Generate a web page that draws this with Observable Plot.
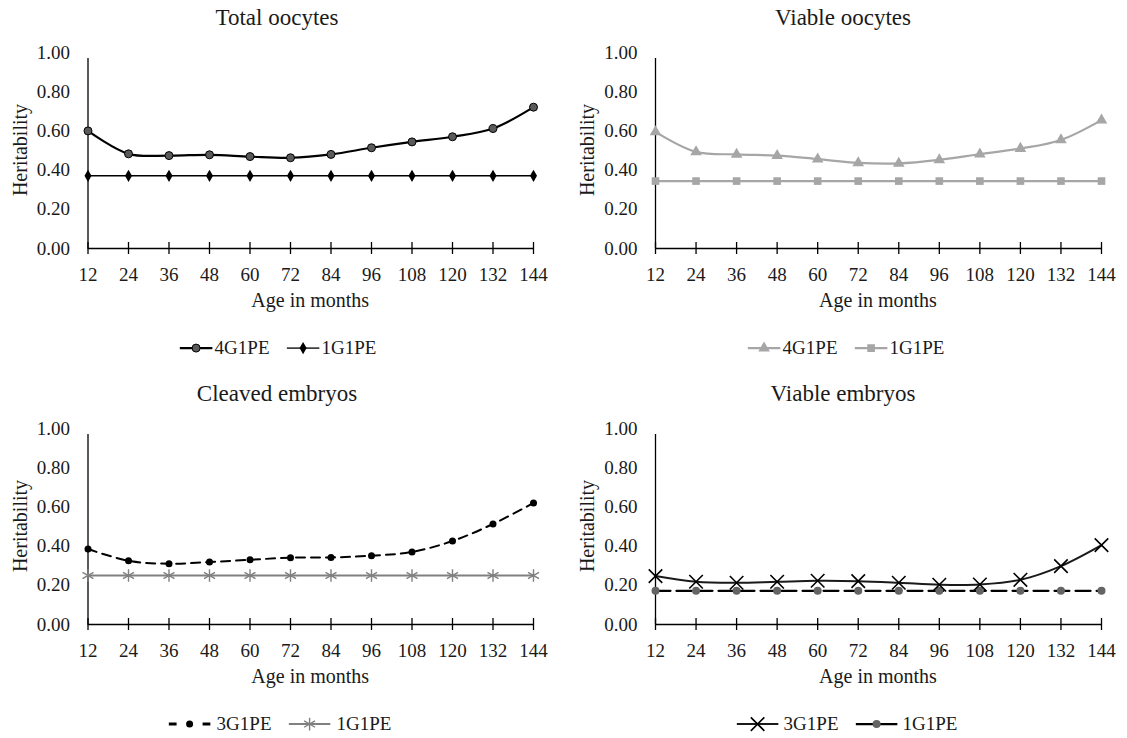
<!DOCTYPE html>
<html>
<head>
<meta charset="utf-8">
<script src="https://cdn.jsdelivr.net/npm/d3@7"></script>
<script src="https://cdn.jsdelivr.net/npm/@observablehq/plot@0.6"></script>
<style>
  body { margin: 0; background: #fff; }
  #root { position: relative; width: 1127px; height: 738px; overflow: hidden;
          font-family: "Liberation Serif", serif; color: #1a1a1a; }
  .abs { position: absolute; white-space: nowrap; line-height: 1.15; }
  .title { font-size: 23px; transform: translate(-50%, -50%); }
  .xlabel { font-size: 20px; transform: translate(-50%, -50%); }
  .ylabel { font-size: 20px; transform: translate(-50%, -50%) rotate(-90deg); }
  .legend { display: flex; align-items: center; font-size: 19px; transform: translate(-50%, -50%); }
  .legend .item { display: flex; align-items: center; }
  .legend .item + .item { margin-left: 17px; }
  .legend svg { display: block; }
</style>
</head>
<body>
<div id="root"></div>
<script>
// Age at evaluation (months)
const ages = [12, 24, 36, 48, 60, 72, 84, 96, 108, 120, 132, 144];
const yTicks = [0, 0.2, 0.4, 0.6, 0.8, 1.0];

// Heritability estimates per trait and model
const totalOocytes4G1PE = [0.60, 0.483, 0.474, 0.478, 0.469, 0.463, 0.480, 0.514, 0.544, 0.570, 0.612, 0.721];
const totalOocytes1G1PE = [0.371, 0.371, 0.371, 0.371, 0.371, 0.371, 0.371, 0.371, 0.371, 0.371, 0.371, 0.371];
const viableOocytes4G1PE = [0.595, 0.493, 0.480, 0.474, 0.456, 0.437, 0.434, 0.452, 0.481, 0.510, 0.554, 0.655];
const viableOocytes1G1PE = [0.344, 0.344, 0.344, 0.344, 0.344, 0.344, 0.344, 0.344, 0.344, 0.344, 0.344, 0.344];
const cleavedEmbryos3G1PE = [0.385, 0.325, 0.310, 0.319, 0.330, 0.341, 0.342, 0.351, 0.370, 0.426, 0.513, 0.620];
const cleavedEmbryos1G1PE = [0.250, 0.250, 0.250, 0.250, 0.250, 0.250, 0.250, 0.250, 0.250, 0.250, 0.250, 0.250];
const viableEmbryos3G1PE = [0.247, 0.218, 0.213, 0.218, 0.223, 0.221, 0.213, 0.203, 0.204, 0.228, 0.298, 0.405];
const viableEmbryos1G1PE = [0.172, 0.172, 0.172, 0.172, 0.172, 0.172, 0.172, 0.172, 0.172, 0.172, 0.172, 0.172];

const FONT = "Liberation Serif, serif";

const panels = [
  {
    title: "Total oocytes", left: 0, top: 0, width: 560, titleX: 277, legendX: 278, swatchW: 33, swatchGap: 2,
    series: [
      { name: "4G1PE", values: totalOocytes4G1PE, stroke: "#000", strokeWidth: 2.2, dash: null,
        symbol: "circle", r: 4, fill: "#5a5a5a", markStroke: "#000", markWidth: 1 },
      { name: "1G1PE", values: totalOocytes1G1PE, stroke: "#000", strokeWidth: 1.6, dash: null,
        legendStroke: "#404040", symbol: "diamond", r: 3.7, fill: "#000", markStroke: "none", markWidth: 0 }
    ]
  },
  {
    title: "Viable oocytes", left: 560, top: 0, width: 567, titleX: 843, legendX: 846, swatchW: 33, swatchGap: 2,
    series: [
      { name: "4G1PE", values: viableOocytes4G1PE, stroke: "#a6a6a6", strokeWidth: 2.2, dash: null,
        symbol: "triangle", r: 4.3, fill: "#a6a6a6", markStroke: "none", markWidth: 0 },
      { name: "1G1PE", values: viableOocytes1G1PE, stroke: "#a6a6a6", strokeWidth: 2.2, dash: null,
        symbol: "square", r: 4.3, fill: "#a6a6a6", markStroke: "none", markWidth: 0 }
    ]
  },
  {
    title: "Cleaved embryos", left: 0, top: 376, width: 560, titleX: 277, legendX: 280, swatchW: 42, swatchGap: 6,
    series: [
      { name: "3G1PE", values: cleavedEmbryos3G1PE, stroke: "#000", strokeWidth: 2, dash: "9,6",
        legendDash: "8,26", legendWidth: 3, symbol: "circle", r: 3.5, fill: "#000", markStroke: "none", markWidth: 0 },
      { name: "1G1PE", values: cleavedEmbryos1G1PE, stroke: "#808080", strokeWidth: 2, dash: null,
        symbol: "asterisk", r: 6, fill: "none", markStroke: "#808080", markWidth: 1.4 }
    ]
  },
  {
    title: "Viable embryos", left: 560, top: 376, width: 567, titleX: 843, legendX: 847, swatchW: 42, swatchGap: 5,
    series: [
      { name: "3G1PE", values: viableEmbryos3G1PE, stroke: "#1a1a1a", strokeWidth: 2, dash: null,
        symbol: "times", r: 6.2, fill: "none", markStroke: "#000", markWidth: 1.6 },
      { name: "1G1PE", values: viableEmbryos1G1PE, stroke: "#000", strokeWidth: 2.2, dash: "15,6",
        legendDash: "18,6", symbol: "circle", r: 4, fill: "#646464", markStroke: "none", markWidth: 0 }
    ]
  }
];

const root = document.getElementById("root");

function addDiv(cls, text, x, y) {
  const d = document.createElement("div");
  d.className = "abs " + cls;
  d.textContent = text;
  d.style.left = x + "px";
  d.style.top = y + "px";
  root.appendChild(d);
  return d;
}

const symbols = { circle: d3.symbolCircle, diamond: d3.symbolDiamond, triangle: d3.symbolTriangle,
                  square: d3.symbolSquare, asterisk: d3.symbolAsterisk, times: d3.symbolTimes };

function swatch(s, w) {
  const h = 16;
  const svg = d3.create("svg").attr("width", w).attr("height", h);
  svg.append("line").attr("x1", 0).attr("x2", w).attr("y1", h / 2).attr("y2", h / 2)
    .attr("stroke", s.legendStroke || s.stroke).attr("stroke-width", s.legendWidth || s.strokeWidth)
    .attr("stroke-dasharray", s.legendDash || null);
  svg.append("path").attr("transform", `translate(${w / 2},${h / 2})`)
    .attr("d", d3.symbol(symbols[s.symbol], Math.PI * s.r * s.r)())
    .attr("fill", s.fill).attr("stroke", s.markStroke).attr("stroke-width", s.markWidth);
  return svg.node();
}

for (const p of panels) {
  const axisX = p.left === 0 ? 87.5 : 655;        // page x of the value axis
  const endX = p.left === 0 ? 533 : 1101;         // page x of the last age
  const marginLeft = axisX - p.left;
  const marginRight = p.left + p.width - endX;
  const svgTop = p.top + 35;
  const marginTop = 17, frameH = 196, marginBottom = 40;

  const marks = [
    Plot.axisY(yTicks, { tickSize: 0, tickPadding: 18, tickFormat: d3.format(".2f"),
                         label: null, fontSize: 19, fill: "#1a1a1a" }),
    Plot.axisX(ages, { tickSize: 0, tickPadding: 19, tickFormat: d => String(d),
                       label: null, fontSize: 19, fill: "#1a1a1a" }),
    Plot.ruleX([12], { y1: 0, y2: 1, insetBottom: -6, stroke: "#000", strokeWidth: 1.3 }),
    Plot.ruleY([0], { x1: 12, x2: 144, stroke: "#000", strokeWidth: 1.3 }),
    Plot.ruleX(ages, { y1: 0, y2: 0, insetTop: -6, insetBottom: -6, stroke: "#000", strokeWidth: 1.3 })
  ];
  // the flat series goes underneath the curved one
  for (const s of [...p.series].reverse()) {
    const data = ages.map((a, i) => ({ age: a, value: s.values[i] }));
    marks.push(Plot.line(data, { x: "age", y: "value", curve: "catmull-rom", stroke: s.stroke,
                                 strokeWidth: s.strokeWidth, strokeDasharray: s.dash || undefined }));
    marks.push(Plot.dot(data, { x: "age", y: "value", symbol: s.symbol, r: s.r, fill: s.fill,
                                stroke: s.markStroke, strokeWidth: s.markWidth }));
  }

  const chart = Plot.plot({
    width: p.width,
    height: marginTop + frameH + marginBottom,
    marginLeft, marginRight, marginTop, marginBottom,
    x: { type: "linear", domain: [12, 144] },
    y: { domain: [0, 1] },
    style: { fontFamily: FONT, fontSize: "19px", color: "#1a1a1a", background: "transparent", overflow: "visible" },
    marks
  });
  chart.style.position = "absolute";
  chart.style.left = p.left + "px";
  chart.style.top = svgTop + "px";
  root.appendChild(chart);

  addDiv("title", p.title, p.titleX, p.top + 18);
  addDiv("xlabel", "Age in months", (axisX + endX) / 2, p.top + 300);
  addDiv("ylabel", "Heritability", axisX - 68, p.top + 150);

  const legend = addDiv("legend", "", p.legendX, p.top + 348);
  for (const s of p.series) {
    const item = document.createElement("div");
    item.className = "item";
    item.style.gap = p.swatchGap + "px";
    item.appendChild(swatch(s, p.swatchW));
    const t = document.createElement("span");
    t.textContent = s.name;
    item.appendChild(t);
    legend.appendChild(item);
  }
}
</script>
</body>
</html>
